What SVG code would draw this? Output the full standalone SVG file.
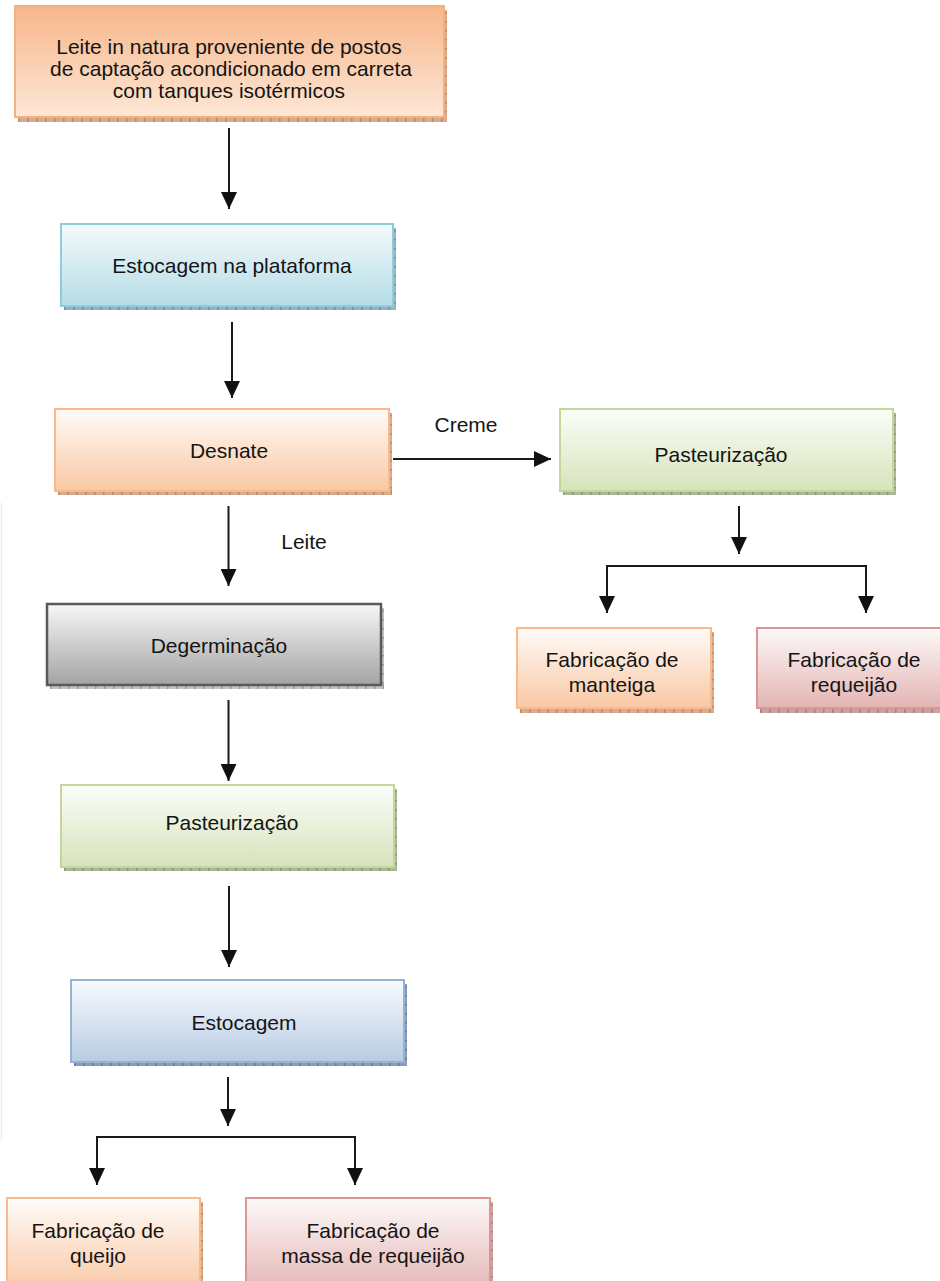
<svg xmlns="http://www.w3.org/2000/svg" width="940" height="1281" viewBox="0 0 940 1281">
<defs>
<linearGradient id="gTop" x1="0" y1="0" x2="0" y2="1"><stop offset="0" stop-color="#f7b689"/><stop offset="1" stop-color="#fde7d6"/></linearGradient>
<linearGradient id="gOr" x1="0" y1="0" x2="0" y2="1"><stop offset="0" stop-color="#fffbf8"/><stop offset="1" stop-color="#f9c8a4"/></linearGradient>
<linearGradient id="gCy" x1="0" y1="0" x2="0" y2="1"><stop offset="0" stop-color="#f4fafc"/><stop offset="1" stop-color="#b5dce7"/></linearGradient>
<linearGradient id="gGr" x1="0" y1="0" x2="0" y2="1"><stop offset="0" stop-color="#f7f7f7"/><stop offset="1" stop-color="#a3a3a3"/></linearGradient>
<linearGradient id="gGn" x1="0" y1="0" x2="0" y2="1"><stop offset="0" stop-color="#fbfdf8"/><stop offset="1" stop-color="#d6e3bb"/></linearGradient>
<linearGradient id="gBl" x1="0" y1="0" x2="0" y2="1"><stop offset="0" stop-color="#f8fafd"/><stop offset="1" stop-color="#b8cce4"/></linearGradient>
<linearGradient id="gPk" x1="0" y1="0" x2="0" y2="1"><stop offset="0" stop-color="#fdf9f9"/><stop offset="1" stop-color="#e3b4b3"/></linearGradient>
<marker id="arr" markerWidth="17" markerHeight="16" refX="17" refY="8" orient="auto" markerUnits="userSpaceOnUse">
<path d="M0,0 L17,8 L0,16 z" fill="#111"/>
</marker>
<style>
text{font-family:"Liberation Sans",Arial,sans-serif;font-size:21px;fill:#141414;text-anchor:middle}
.con{stroke:#1a1a1a;stroke-width:2;fill:none}
.tick{fill:none;stroke-width:5;stroke-dasharray:1.5 7.5}
.tickv{fill:none;stroke-width:3;stroke-dasharray:1.5 7.5}
.shOr{fill:#d8ab8c}.tkOr{stroke:#b88a6c}
.shCy{fill:#93b3c0}.tkCy{stroke:#6f8f9d}
.shGr{fill:#c4c4c4}.tkGr{stroke:#9a9a9a}
.shGn{fill:#abb796}.tkGn{stroke:#8a9674}
.shBl{fill:#8c9cb3}.tkBl{stroke:#6a7a92}
.shPk{fill:#c9a2a2}.tkPk{stroke:#a88080}
</style>
</defs>
<rect width="940" height="1281" fill="#fff"/>
<line x1="1.5" y1="503" x2="1.5" y2="1140" stroke="#ececec" stroke-width="1.5"/>

<g id="n1">
<rect class="shOr" x="18" y="10" width="429" height="112"/>
<line class="tick tkOr" x1="18" y1="119.5" x2="447" y2="119.5"/>
<line class="tickv tkOr" x1="445.5" y1="12" x2="445.5" y2="119"/>
<rect x="15" y="6" width="429" height="111" fill="url(#gTop)" stroke="#f3b182" stroke-width="2"/>
<text x="229" y="54">Leite in natura proveniente de postos</text>
<text x="231" y="76">de captação acondicionado em carreta</text>
<text x="229" y="98">com tanques isotérmicos</text>
</g>

<g id="n2">
<rect class="shCy" x="64" y="228" width="332" height="82"/>
<line class="tick tkCy" x1="64" y1="307.5" x2="396" y2="307.5"/>
<line class="tickv tkCy" x1="394.5" y1="230" x2="394.5" y2="306"/>
<rect x="61" y="224" width="332" height="82" fill="url(#gCy)" stroke="#8fcbdb" stroke-width="2"/>
<text x="232" y="273">Estocagem na plataforma</text>
</g>

<g id="n3">
<rect class="shOr" x="58" y="413" width="334" height="82"/>
<line class="tick tkOr" x1="58" y1="492.5" x2="392" y2="492.5"/>
<line class="tickv tkOr" x1="390.5" y1="415" x2="390.5" y2="491"/>
<rect x="55" y="409" width="334" height="82" fill="url(#gOr)" stroke="#f9b98a" stroke-width="2"/>
<text x="229" y="458">Desnate</text>
</g>

<g id="n4">
<rect class="shGn" x="563" y="413" width="333" height="82"/>
<line class="tick tkGn" x1="563" y1="492.5" x2="896" y2="492.5"/>
<line class="tickv tkGn" x1="894.5" y1="415" x2="894.5" y2="491"/>
<rect x="560" y="409" width="333" height="82" fill="url(#gGn)" stroke="#c3d69b" stroke-width="2"/>
<text x="721" y="462">Pasteurização</text>
</g>

<g id="n5">
<rect class="shOr" x="520" y="632" width="194" height="81"/>
<line class="tick tkOr" x1="520" y1="710.5" x2="714" y2="710.5"/>
<line class="tickv tkOr" x1="712.5" y1="634" x2="712.5" y2="709"/>
<rect x="517" y="628" width="194" height="80" fill="url(#gOr)" stroke="#f9b98a" stroke-width="2"/>
<text x="612" y="667">Fabricação de</text>
<text x="612" y="692">manteiga</text>
</g>

<g id="n6">
<rect class="shPk" x="760" y="632" width="190" height="81"/>
<line class="tick tkPk" x1="760" y1="710.5" x2="950" y2="710.5"/>
<rect x="757" y="628" width="190" height="80" fill="url(#gPk)" stroke="#d99694" stroke-width="2"/>
<text x="854" y="667">Fabricação de</text>
<text x="854" y="692">requeijão</text>
</g>

<g id="n7">
<rect class="shGr" x="50" y="608" width="334" height="81"/>
<line class="tick tkGr" x1="50" y1="686.5" x2="384" y2="686.5"/>
<line class="tickv tkGr" x1="382.5" y1="610" x2="382.5" y2="685"/>
<rect x="47" y="604" width="334" height="81" fill="url(#gGr)" stroke="#5a5a5a" stroke-width="2.5"/>
<text x="219" y="653">Degerminação</text>
</g>

<g id="n8">
<rect class="shGn" x="64" y="789" width="333" height="82"/>
<line class="tick tkGn" x1="64" y1="868.5" x2="397" y2="868.5"/>
<line class="tickv tkGn" x1="395.5" y1="791" x2="395.5" y2="867"/>
<rect x="61" y="785" width="333" height="82" fill="url(#gGn)" stroke="#c3d69b" stroke-width="2"/>
<text x="232" y="830">Pasteurização</text>
</g>

<g id="n9">
<rect class="shBl" x="74" y="984" width="333" height="82"/>
<line class="tick tkBl" x1="74" y1="1063.5" x2="407" y2="1063.5"/>
<line class="tickv tkBl" x1="405.5" y1="986" x2="405.5" y2="1062"/>
<rect x="71" y="980" width="333" height="82" fill="url(#gBl)" stroke="#95b3d7" stroke-width="2"/>
<text x="244" y="1030">Estocagem</text>
</g>

<g id="n10">
<rect class="shOr" x="10" y="1202" width="193" height="90"/>
<line class="tickv tkOr" x1="201.5" y1="1204" x2="201.5" y2="1290"/>
<rect x="7" y="1198" width="193" height="95" fill="url(#gOr)" stroke="#f9b98a" stroke-width="2"/>
<text x="98" y="1238">Fabricação de</text>
<text x="98" y="1263">queijo</text>
</g>

<g id="n11">
<rect class="shPk" x="249" y="1202" width="244" height="90"/>
<line class="tickv tkPk" x1="491.5" y1="1204" x2="491.5" y2="1290"/>
<rect x="246" y="1198" width="244" height="95" fill="url(#gPk)" stroke="#d99694" stroke-width="2"/>
<text x="373" y="1238">Fabricação de</text>
<text x="373" y="1263">massa de requeijão</text>
</g>

<g id="connectors">
<line class="con" x1="229" y1="128" x2="229" y2="209" marker-end="url(#arr)"/>
<line class="con" x1="232" y1="322" x2="232" y2="398" marker-end="url(#arr)"/>
<line class="con" x1="393" y1="459" x2="551" y2="459" marker-end="url(#arr)"/>
<text x="466" y="432">Creme</text>
<line class="con" x1="228.5" y1="506" x2="228.5" y2="586" marker-end="url(#arr)"/>
<text x="304" y="549">Leite</text>
<line class="con" x1="739" y1="506" x2="739" y2="554" marker-end="url(#arr)"/>
<polyline class="con" points="607,613 607,566 866,566 866,613" marker-end="url(#arr)"/>
<line class="con" x1="607" y1="570" x2="607" y2="613" marker-end="url(#arr)"/>
<line class="con" x1="228.5" y1="700" x2="228.5" y2="781" marker-end="url(#arr)"/>
<line class="con" x1="229" y1="886" x2="229" y2="967" marker-end="url(#arr)"/>
<line class="con" x1="228" y1="1077" x2="228" y2="1126" marker-end="url(#arr)"/>
<polyline class="con" points="97,1185 97,1137 355,1137 355,1185" marker-end="url(#arr)"/>
<line class="con" x1="97" y1="1141" x2="97" y2="1185" marker-end="url(#arr)"/>
</g>
</svg>
